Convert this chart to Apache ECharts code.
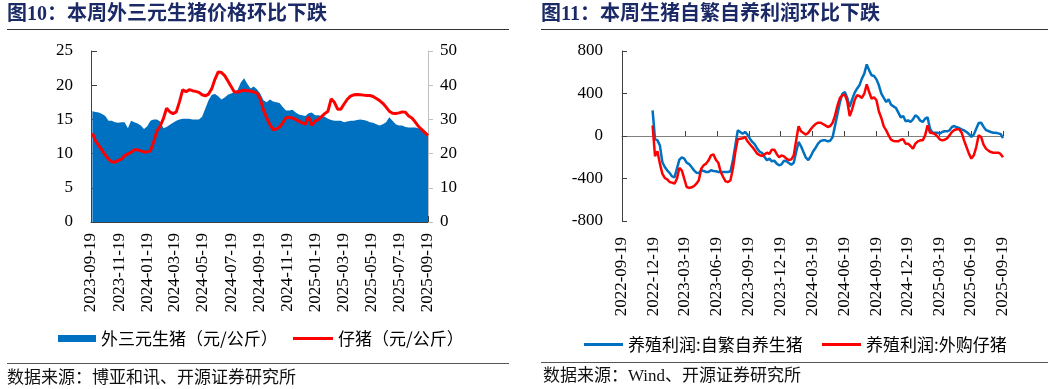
<!DOCTYPE html>
<html>
<head>
<meta charset="utf-8">
<script src="https://cdn.jsdelivr.net/npm/echarts@6/dist/echarts.min.js"></script>
<style>
html,body{margin:0;padding:0;background:#fff;}
#c{width:1057px;height:389px;}
</style>
</head>
<body>
<div id="c"></div>
<script>
// ---------- data ----------
const leftTitle = '图10：本周外三元生猪价格环比下跌';
const rightTitle = '图11：本周生猪自繁自养利润环比下跌';
const leftSource = '数据来源：博亚和讯、开源证券研究所';
const rightSource = '数据来源：Wind、开源证券研究所';
const leftNames = ['外三元生猪（元/公斤）', '仔猪（元/公斤）'];
const rightNames = ['养殖利润:自繁自养生猪', '养殖利润:外购仔猪'];

const leftEndDate = '2025-09-19';   // weekly series, last week
const rightStartDate = '2022-12-16'; // weekly series, first week

const leftTicks = ['2023-09-19','2023-11-19','2024-01-19','2024-03-19','2024-05-19','2024-07-19','2024-09-19','2024-11-19','2025-01-19','2025-03-19','2025-05-19','2025-07-19','2025-09-19'];
const rightTicks = ['2022-09-19','2022-12-19','2023-03-19','2023-06-19','2023-09-19','2023-12-19','2024-03-19','2024-06-19','2024-09-19','2024-12-19','2025-03-19','2025-06-19','2025-09-19'];

const livePig = [
16.2,16.1,16.0,15.8,15.5,14.8,14.8,14.6,14.5,14.6,
14.6,13.7,14.8,14.6,14.4,14.1,13.6,14.0,14.8,15.0,
15.0,14.7,13.7,13.9,14.2,14.5,14.8,15.0,15.1,15.1,
15.1,15.0,15.0,15.0,15.4,16.6,17.8,18.6,18.7,18.4,
17.9,18.2,18.6,18.8,19.0,19.3,20.4,21.0,20.2,19.5,
19.8,19.4,18.8,17.8,17.5,17.9,17.6,17.5,17.4,16.8,
16.3,16.3,16.4,16.0,15.7,15.6,15.5,15.9,16.0,15.6,
15.6,15.5,15.4,15.1,14.9,14.8,14.8,14.8,14.6,14.7,
14.8,14.8,14.9,15.0,14.9,14.8,14.6,14.5,14.3,14.1,
14.3,14.6,15.3,14.8,14.3,14.1,14.1,13.9,13.8,13.8,
13.8,13.7,13.6,13.2,12.7];

const piglet = [
26.0,23.7,22.3,21.0,19.6,18.4,17.6,17.5,18.0,18.4,
19.4,19.9,20.4,21.1,21.1,20.8,20.5,20.5,20.8,23.5,
26.6,28.0,30.2,33.3,32.2,31.7,32.2,35.2,38.7,38.1,
38.7,38.4,38.2,37.9,37.2,36.9,37.4,39.0,41.8,43.9,
43.7,42.8,41.2,39.6,38.0,38.0,38.3,38.5,38.4,38.3,
38.0,37.7,36.0,32.8,30.5,28.5,27.0,27.2,27.8,29.0,
30.5,30.6,30.4,30.0,29.5,29.0,28.6,30.8,28.3,29.5,
30.0,30.8,31.7,32.4,36.0,35.0,33.0,33.0,34.5,35.9,
36.8,37.2,37.3,37.2,37.1,37.0,37.0,36.7,36.1,35.5,
34.7,33.6,32.4,31.8,31.7,31.9,32.2,32.1,31.0,30.4,
29.3,28.0,27.1,26.2,25.3];

const profitSelf = [
241,-30,-41,-88,-245,-292,-323,-348,-380,-390,
-307,-223,-201,-213,-251,-264,-292,-323,-345,-348,
-323,-329,-339,-339,-323,-329,-332,-339,-339,-339,
-339,-339,-332,-229,-88,53,38,22,38,13,
-25,-56,-78,-119,-148,-160,-198,-229,-213,-238,
-232,-260,-276,-267,-232,-238,-254,-270,-251,-151,
-56,-97,-151,-204,-226,-191,-144,-110,-72,-47,
-41,-41,-50,-44,-9,100,210,320,398,414,
358,273,345,405,445,477,540,587,674,618,
571,565,533,477,398,358,320,345,295,279,
264,220,176,188,138,147,132,157,194,179,
144,132,163,176,69,31,31,31,22,38,
44,44,53,85,94,82,75,63,53,38,
19,-9,13,69,122,125,88,56,47,38,
31,31,25,19,-20];

const profitBought = [
100,-190,-144,-260,-354,-395,-408,-433,-439,-449,
-402,-301,-323,-402,-480,-489,-483,-471,-449,-417,
-307,-276,-260,-229,-182,-173,-223,-251,-339,-386,
-427,-433,-417,-307,-151,-31,-25,-22,-9,-50,
-78,-104,-135,-166,-180,-188,-173,-157,-169,-129,
-129,-169,-201,-182,-191,-213,-226,-220,-182,-41,
91,44,28,13,31,63,91,113,125,125,
113,100,85,94,125,194,289,358,383,389,
326,188,251,336,383,376,358,398,486,414,
351,364,336,230,170,90,53,6,-35,-47,
-50,-50,-35,-31,-72,-72,-94,-119,-72,-50,
-41,-41,6,100,31,28,19,-3,-31,-41,
-35,-22,6,38,56,63,63,31,-41,-104,
-166,-213,-182,-104,6,-9,-82,-119,-138,-151,
-157,-157,-157,-169,-200];

// ---------- helpers ----------
function ts(s){ const p = s.split('-').map(Number); return new Date(p[0], p[1]-1, p[2]).getTime(); }
function weekly(anchor, n, fromEnd){
  const p = anchor.split('-').map(Number);
  const out = [];
  for (let i = 0; i < n; i++) {
    const k = fromEnd ? i - (n - 1) : i;
    out.push(new Date(p[0], p[1]-1, p[2] + 7*k).getTime());
  }
  return out;
}
function pad(n){ return (n < 10 ? '0' : '') + n; }
function fmt(v){ const d = new Date(v); return d.getFullYear() + '-' + pad(d.getMonth()+1) + '-' + pad(d.getDate()); }
function zip(xs, ys){ return ys.map((y, i) => [xs[i], y]); }

const leftDates = weekly(leftEndDate, livePig.length, true);
const rightDates = weekly(rightStartDate, profitSelf.length, false);
const leftTickTs = leftTicks.map(ts);
const rightTickTs = rightTicks.map(ts);

const SERIF = "'Liberation Serif', 'Times New Roman', 'Noto Sans CJK SC', serif";
const CJK = "'Noto Sans CJK SC', 'Liberation Serif', sans-serif";
const TITLE_FONT = "'Liberation Serif', 'Noto Sans CJK SC', serif";
const BLUE = '#0070C0', RED = '#FF0000';

const axisLabelBase = { color: '#000', fontFamily: SERIF, fontSize: 17 };

const chart = echarts.init(document.getElementById('c'), null, { renderer: 'canvas' });

chart.setOption({
  animation: false,
  backgroundColor: '#fff',
  grid: [
    { left: 91, top: 51, width: 337, height: 171 },
    { left: 622, top: 51, width: 381, height: 170 }
  ],
  xAxis: [
    {
      type: 'value', gridIndex: 0, min: leftTickTs[0], max: leftTickTs[leftTickTs.length-1],
      axisLine: { lineStyle: { color: '#404040', width: 1 } },
      axisTick: { inside: true, length: 6, lineStyle: { color: '#404040' }, customValues: leftTickTs },
      axisLabel: Object.assign({}, axisLabelBase, { rotate: 90, margin: 11, customValues: leftTickTs, formatter: fmt }),
      splitLine: { show: false }
    },
    {
      type: 'value', gridIndex: 1, min: rightTickTs[0], max: rightTickTs[rightTickTs.length-1],
      position: 'bottom',
      axisLine: { onZero: true, lineStyle: { color: '#808080', width: 1 } },
      axisTick: { inside: true, length: 5, lineStyle: { color: '#404040' }, customValues: rightTickTs },
      axisLabel: { show: false },
      splitLine: { show: false }
    },
    {
      type: 'value', gridIndex: 1, min: rightTickTs[0], max: rightTickTs[rightTickTs.length-1],
      position: 'bottom',
      axisLine: { show: false, onZero: false },
      axisTick: { show: false },
      axisLabel: Object.assign({}, axisLabelBase, { rotate: 90, margin: 16, customValues: rightTickTs, formatter: fmt }),
      splitLine: { show: false }
    }
  ],
  yAxis: [
    {
      type: 'value', gridIndex: 0, min: 0, max: 25, interval: 5, position: 'left',
      axisLine: { show: true, lineStyle: { color: '#404040' } },
      axisTick: { show: true, inside: true, length: 6, lineStyle: { color: '#404040' } },
      axisLabel: Object.assign({}, axisLabelBase, { margin: 18 }),
      splitLine: { show: false }
    },
    {
      type: 'value', gridIndex: 0, min: 0, max: 50, interval: 10, position: 'right',
      axisLine: { show: true, lineStyle: { color: '#BFBFBF' } },
      axisTick: { show: true, inside: false, length: 5, lineStyle: { color: '#BFBFBF' } },
      axisLabel: Object.assign({}, axisLabelBase, { margin: 12 }),
      splitLine: { show: false }
    },
    {
      type: 'value', gridIndex: 1, min: -800, max: 800, interval: 400, position: 'left',
      axisLine: { show: true, onZero: false, lineStyle: { color: '#404040' } },
      axisTick: { show: true, inside: true, length: 5, lineStyle: { color: '#404040' } },
      axisLabel: Object.assign({}, axisLabelBase, { margin: 19 }),
      splitLine: { show: false }
    }
  ],
  legend: [
    { left: 53, top: 325, itemWidth: 38, itemHeight: 7, itemGap: 20, icon: 'rect',
      data: [leftNames[0]], textStyle: { color: '#000', fontSize: 17, fontFamily: CJK }, selectedMode: false },
    { left: 288, top: 325, itemWidth: 40, itemHeight: 3, icon: 'rect',
      data: [leftNames[1]], textStyle: { color: '#000', fontSize: 17, fontFamily: CJK }, selectedMode: false },
    { left: 579, top: 331, itemWidth: 39, itemHeight: 3, icon: 'rect',
      data: [rightNames[0]], textStyle: { color: '#000', fontSize: 17, fontFamily: CJK }, selectedMode: false },
    { left: 817, top: 331, itemWidth: 39, itemHeight: 3, icon: 'rect',
      data: [rightNames[1]], textStyle: { color: '#000', fontSize: 17, fontFamily: CJK }, selectedMode: false }
  ],
  series: [
    {
      name: leftNames[0], type: 'line', xAxisIndex: 0, yAxisIndex: 0,
      data: zip(leftDates, livePig), symbol: 'none',
      lineStyle: { width: 0, color: BLUE }, itemStyle: { color: BLUE },
      areaStyle: { color: BLUE, opacity: 1 }, z: 2
    },
    {
      name: leftNames[1], type: 'line', xAxisIndex: 0, yAxisIndex: 1,
      data: zip(leftDates, piglet), symbol: 'none',
      lineStyle: { width: 3, color: RED }, itemStyle: { color: RED }, z: 3
    },
    {
      name: rightNames[0], type: 'line', xAxisIndex: 1, yAxisIndex: 2,
      data: zip(rightDates, profitSelf), symbol: 'none',
      lineStyle: { width: 2.5, color: BLUE }, itemStyle: { color: BLUE }, z: 3
    },
    {
      name: rightNames[1], type: 'line', xAxisIndex: 1, yAxisIndex: 2,
      data: zip(rightDates, profitBought), symbol: 'none',
      lineStyle: { width: 2.5, color: RED }, itemStyle: { color: RED }, z: 4
    }
  ],
  graphic: [
    { type: 'text', left: 7, top: 5, style: { text: leftTitle, fill: '#1B2A66', font: "bold 20px " + TITLE_FONT } },
    { type: 'text', left: 541, top: 5, style: { text: rightTitle, fill: '#1B2A66', font: "bold 20px " + TITLE_FONT } },
    { type: 'line', shape: { x1: 7, y1: 29.5, x2: 509, y2: 29.5 }, style: { stroke: '#333', lineWidth: 1 } },
    { type: 'line', shape: { x1: 541, y1: 29.5, x2: 1048, y2: 29.5 }, style: { stroke: '#333', lineWidth: 1 } },
    { type: 'line', shape: { x1: 7, y1: 363.5, x2: 509, y2: 363.5 }, style: { stroke: '#555', lineWidth: 1 } },
    { type: 'line', shape: { x1: 541, y1: 362.5, x2: 1048, y2: 362.5 }, style: { stroke: '#555', lineWidth: 1 } },
    { type: 'text', left: 7, top: 368, style: { text: leftSource, fill: '#111', font: "17px " + CJK } },
    { type: 'text', left: 543, top: 368, style: { text: rightSource, fill: '#111', font: "17px " + TITLE_FONT } }
  ]
});
</script>
</body>
</html>
